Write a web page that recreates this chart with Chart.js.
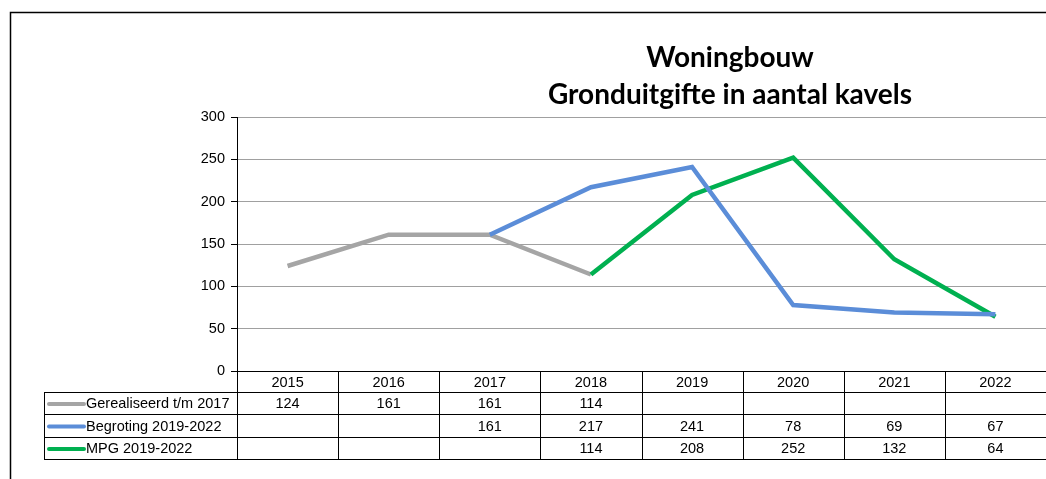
<!DOCTYPE html>
<html lang="nl">
<head>
  <meta charset="UTF-8">
  <title>Woningbouw - Gronduitgifte in aantal kavels</title>
  <script src="https://cdn.jsdelivr.net/npm/chart.js"></script>
  <style>
    body {
      margin: 0;
      background: #fff;
    }
    canvas {
      display: block;
    }
  </style>
</head>
<body>

  <canvas id="kavelChart" width="1046" height="479"></canvas>

  <script>
    const years = ['2015', '2016', '2017', '2018', '2019', '2020', '2021', '2022'];
    const gerealiseerd = [124, 161, 161, 114, null, null, null, null];
    const begroting = [null, null, 161, 217, 241, 78, 69, 67];
    const mpg = [null, null, null, 114, 208, 252, 132, 64];
    const yTicks = [0, 50, 100, 150, 200, 250, 300];

    const titleLines = ['Woningbouw', 'Gronduitgifte in aantal kavels'];
    const seriesNames = ['Gerealiseerd t/m 2017', 'Begroting 2019-2022', 'MPG 2019-2022'];
    const seriesData = [gerealiseerd, begroting, mpg];
    const seriesColors = ['#a5a5a5', '#5b8dd8', '#00b050'];

    const font = '14.5px "Liberation Sans", Arial, sans-serif';

    // title, outer frame and the data table under the x axis
    const extras = {
      id: 'extras',
      afterDraw(chart) {
        const ctx = chart.ctx;
        const x = chart.scales.x;
        const area = chart.chartArea;
        ctx.save();

        ctx.strokeStyle = '#000';
        ctx.lineWidth = 1.5;
        ctx.strokeRect(10.5, 12.5, 1100, 500);

        ctx.fillStyle = '#000';
        ctx.font = 'bold 28px Lato, sans-serif';
        ctx.textAlign = 'center';
        ctx.textBaseline = 'alphabetic';
        ctx.fillText(titleLines[0], 730, 67);
        ctx.fillText(titleLines[1], 730, 104);

        const rows = [392, 414, 437, 459];
        const tableLeft = 44;
        const half = (x.getPixelForValue(1) - x.getPixelForValue(0)) / 2;

        ctx.lineWidth = 1;
        ctx.strokeStyle = '#000';
        ctx.beginPath();
        rows.forEach(r => {
          ctx.moveTo(tableLeft, r + 0.5);
          ctx.lineTo(area.right, r + 0.5);
        });
        ctx.moveTo(tableLeft + 0.5, rows[0]);
        ctx.lineTo(tableLeft + 0.5, rows[3]);
        for (let i = 0; i <= years.length; i++) {
          const bx = Math.round(x.getPixelForValue(i) - half) + 0.5;
          ctx.moveTo(bx, area.bottom);
          ctx.lineTo(bx, rows[3]);
        }
        ctx.stroke();

        ctx.font = font;
        ctx.fillStyle = '#000';
        ctx.textAlign = 'center';
        ctx.textBaseline = 'middle';
        years.forEach((yr, i) => {
          ctx.fillText(yr, x.getPixelForValue(i), (area.bottom + rows[0]) / 2 + 1);
        });

        for (let s = 0; s < seriesNames.length; s++) {
          const cy = (rows[s] + rows[s + 1]) / 2 + 1;
          ctx.strokeStyle = seriesColors[s];
          ctx.lineWidth = 4;
          ctx.lineCap = 'round';
          ctx.beginPath();
          ctx.moveTo(49, cy);
          ctx.lineTo(84, cy);
          ctx.stroke();

          ctx.fillStyle = '#000';
          ctx.textAlign = 'left';
          ctx.fillText(seriesNames[s], 86, cy);

          ctx.textAlign = 'center';
          seriesData[s].forEach((v, i) => {
            if (v !== null) ctx.fillText(String(v), x.getPixelForValue(i), cy);
          });
        }
        ctx.restore();
      }
    };

    const ctx = document.getElementById('kavelChart').getContext('2d');
    const chart = new Chart(ctx, {
      type: 'line',
      data: {
        labels: years,
        datasets: seriesNames.map((name, s) => ({
          label: name,
          data: seriesData[s],
          borderColor: seriesColors[s],
          backgroundColor: seriesColors[s],
          borderWidth: 4.5,
          pointRadius: 0,
          tension: 0,
          spanGaps: false,
          order: [2, 0, 1][s]
        }))
      },
      options: {
        responsive: false,
        animation: false,
        layout: {
          padding: { left: 0, right: 0, top: 117, bottom: 87 }
        },
        plugins: {
          legend: { display: false },
          title: { display: false },
          tooltip: { enabled: false }
        },
        scales: {
          x: {
            offset: true,
            afterFit: s => { s.height = 21; },
            grid: { display: false },
            border: { display: true, color: '#000', width: 1 },
            ticks: { display: false }
          },
          y: {
            min: 0,
            max: 300,
            afterFit: s => { s.width = 237; },
            afterBuildTicks: s => { s.ticks = yTicks.map(v => ({ value: v })); },
            grid: {
              color: '#a0a0a0',
              tickColor: '#000',
              tickLength: 6
            },
            border: { display: true, color: '#000', width: 1 },
            ticks: {
              color: '#000',
              font: { family: '"Liberation Sans", Arial, sans-serif', size: 14.5 },
              padding: 6
            }
          }
        }
      },
      plugins: [extras]
    });
  </script>

</body>
</html>
